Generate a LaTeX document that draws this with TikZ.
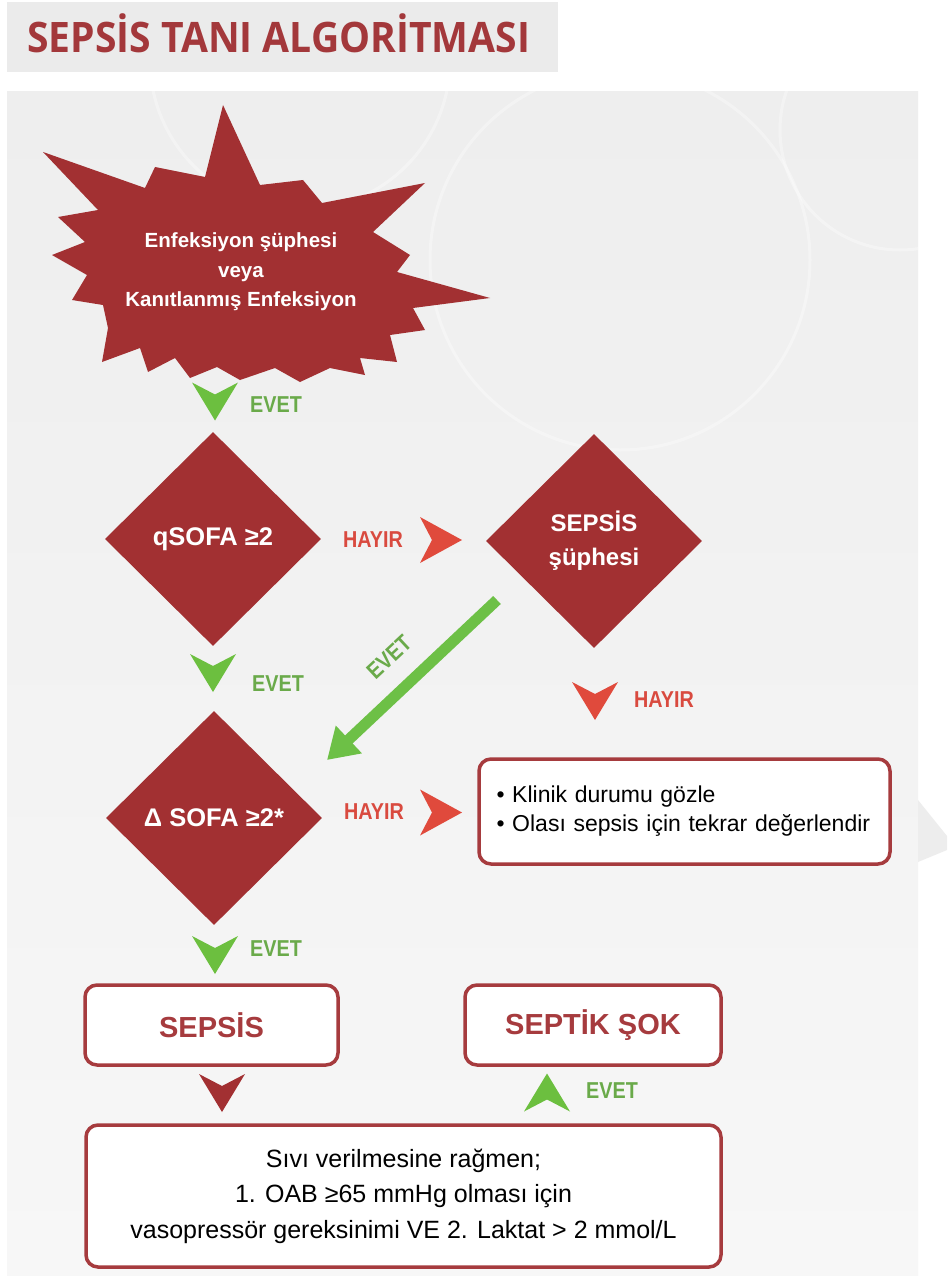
\documentclass[tikz,border=0pt]{standalone}
\usepackage{fontspec}
\setmainfont{Liberation Sans}
\newfontfamily\narrowf[FakeStretch=0.86]{Liberation Sans}
\newfontfamily\titlef[FakeStretch=0.93]{Open Sans}
\usetikzlibrary{shapes.geometric,arrows.meta,calc}
\definecolor{dred}{HTML}{A23032}
\definecolor{bred}{HTML}{A63B3E}
\definecolor{tred}{HTML}{A3383B}
\definecolor{hred}{HTML}{E04A3C}
\definecolor{htxt}{HTML}{D94A3F}
\definecolor{gchev}{HTML}{6CBF3F}
\definecolor{gtxt}{HTML}{6AAA4A}
\definecolor{garrow}{HTML}{6DC046}
\definecolor{panelA}{HTML}{EEEEEE}
\definecolor{panelB}{HTML}{F7F7F7}
\definecolor{titlebg}{HTML}{EBEBEB}
\begin{document}
\begin{tikzpicture}[x=1pt,y=-1pt,
  dia/.style={shape=diamond, fill=dred, minimum width=216pt, minimum height=214pt, inner sep=0pt, text=white, font=\bfseries\fontsize{25.5}{30}\selectfont, align=center},
  rbox/.style={draw=bred, line width=3.5pt, rounded corners=12pt, fill=white, inner sep=0pt},
  evet/.style={text=gtxt, font=\narrowf\bfseries\fontsize{23}{26}\selectfont, anchor=west, inner sep=0pt},
  hayir/.style={text=htxt, font=\narrowf\bfseries\fontsize{23}{26}\selectfont, anchor=west, inner sep=0pt},
  bubble/.style={draw=white, line width=3pt, opacity=0.35},
  chevd/.pic={\fill (-23,-19) -- (0,-7) -- (23,-19) -- (0,19) -- cycle;},
  chevr/.pic={\fill (-21,-23) -- (-9,0) -- (-21,23) -- (21,0) -- cycle;},
  chevu/.pic={\fill (-23,19) -- (0,7) -- (23,19) -- (0,-19) -- cycle;},
]
\useasboundingbox (0,0) rectangle (947,1276);
\fill[white] (0,0) rectangle (947,1276);
% title
\fill[titlebg] (7,2) rectangle (558,72);
\node[anchor=base west, text=tred, font=\titlef\bfseries\fontsize{42}{46}\selectfont, inner sep=0pt] (title) at (27,53) {SEPSİS TANI ALGORİTMASI};
% panel
\shade[top color=panelA, bottom color=panelB] (7,92) rectangle (918,1276);
\begin{scope}
\clip (7,92) rectangle (918,1276);
\draw[bubble] (620,260) circle (190pt);
\draw[bubble] (300,60) circle (150pt);
\draw[bubble] (900,130) circle (120pt);
\end{scope}
\fill[black!7] (918,800) -- (947,836) -- (947,850) -- (918,862) -- cycle;
% starburst
\fill[dred] (223,105) -- (260,185) -- (303,180) -- (322,203) -- (425,183) -- (373,232) -- (410,255) -- (397,272) -- (490,298) -- (413,308) -- (425,330) -- (390,335) -- (397,362) -- (360,358) -- (365,375) -- (330,368) -- (300,382) -- (275,368) -- (240,380) -- (217,367) -- (190,378) -- (175,358) -- (148,372) -- (140,348) -- (102,362) -- (108,328) -- (103,305) -- (72,300) -- (87,275) -- (52,255) -- (85,242) -- (58,217) -- (98,210) -- (43,152) -- (145,188) -- (155,167) -- (205,177) -- cycle;
\node[text=white, font=\bfseries\fontsize{20.5}{29.5}\selectfont, align=center, inner sep=0pt] (star) at (241,272) {Enfeksiyon şüphesi\\veya\\Kanıtlanmış Enfeksiyon};
% diamonds
\node[dia] (q) at (213,539) {qSOFA ≥2};
\node[dia, font=\bfseries\fontsize{24}{34}\selectfont] (sus) at (594,541) {SEPSİS\\şüphesi};
\node[dia] (dsofa) at (214,818) {Δ SOFA ≥2*};
% boxes
\node[rbox, minimum width=411pt, minimum height=105pt, text width=376pt, inner xsep=17.5pt, align=left, font=\fontsize{23}{29}\selectfont] (klinik) at (684.5,811.5) {• Klinik durumu gözle\\• Olası sepsis için tekrar değerlendir};
\node[rbox, minimum width=253pt, minimum height=80pt, text=bred, font=\bfseries\fontsize{29}{32}\selectfont] (sepsis) at (211.5,1025) {SEPSİS};
\node[rbox, minimum width=256pt, minimum height=80pt, text=bred, font=\bfseries\fontsize{29}{32}\selectfont] (sok) at (593,1025) {SEPTİK ŞOK};
\node[rbox, minimum width=635pt, minimum height=142pt, align=center, font=\fontsize{25}{35.5}\selectfont] (bot) at (403.5,1196) {Sıvı verilmesine rağmen;\\1. OAB ≥65 mmHg olması için\\vasopressör gereksinimi VE 2. Laktat > 2 mmol/L};
% chevrons
\pic[color=gchev] at (215,401.5) {chevd};
\pic[color=gchev] at (213,673) {chevd};
\pic[color=gchev] at (215,955) {chevd};
\pic[color=hred] at (441,540) {chevr};
\pic[color=hred] at (441,812.5) {chevr};
\pic[color=hred] at (595,701) {chevd};
\pic[color=dred] at (222,1093) {chevd};
\pic[color=gchev] at (547,1092.5) {chevu};
% labels
\node[evet] (l1) at (250,405) {EVET};
\node[hayir] (l2) at (343,540) {HAYIR};
\node[evet] (l3) at (252,684) {EVET};
\node[hayir] (l4) at (634,700) {HAYIR};
\node[hayir] (l5) at (344,812) {HAYIR};
\node[evet] (l6) at (250,949) {EVET};
\node[evet] (l7) at (586,1091) {EVET};
% diagonal arrow
\coordinate (ga) at (497,600);
\coordinate (gb) at (327,760);
\draw[garrow, line width=11pt, -{Triangle[width=36pt,length=30pt]}] (ga) -- (gb);
\node[evet, anchor=center, rotate=43] (l8) at (389,657) {EVET};
\end{tikzpicture}
\end{document}
